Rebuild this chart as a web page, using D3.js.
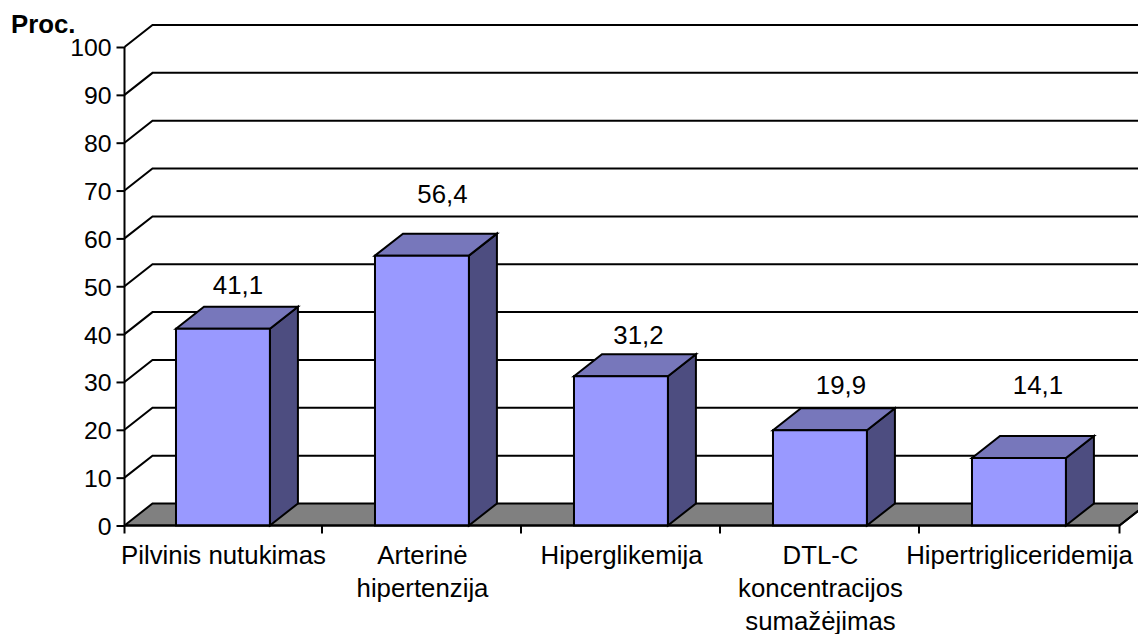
<!DOCTYPE html>
<html lang="lt">
<head>
<meta charset="utf-8">
<script src="https://cdn.jsdelivr.net/npm/d3@7/dist/d3.min.js"></script>
<style>
html,body{margin:0;padding:0;background:#fff;overflow:hidden}
svg{display:block}
text{font-family:"Liberation Sans",Arial,sans-serif;fill:#000}
</style>
</head>
<body>
<div id="chart"></div>
<script>
const categories = ["Pilvinis nutukimas", "Arterinė hipertenzija", "Hiperglikemija", "DTL-C koncentracijos sumažėjimas", "Hipertrigliceridemija"];
const categoryLines = [["Pilvinis nutukimas"], ["Arterinė", "hipertenzija"], ["Hiperglikemija"], ["DTL-C", "koncentracijos", "sumažėjimas"], ["Hipertrigliceridemija"]];
const values = [41.1, 56.4, 31.2, 19.9, 14.1];
const valueLabels = ["41,1", "56,4", "31,2", "19,9", "14,1"];
const yTicks = [0, 10, 20, 30, 40, 50, 60, 70, 80, 90, 100];

const width = 1138, height = 634, fontSize = 25.8, tickFontSize = 24.8;
const depthX = 28, depthY = -22;
const y = d3.scaleLinear().domain([0, 100]).range([525.5, 47]);
const x = d3.scaleBand().domain(categories).range([124.5, 1119.5]).paddingInner(0.528).paddingOuter(0.264).align(0.49);
const edges = d3.scaleLinear().domain([0, categories.length]).range([124.5, 1119.5]);

// Hand placement of the value labels: height above the bar's front top edge, and shift right of its centre
const labelLift = [35, 52.6, 32, 36, 64];
const labelShift = [15, 20.5, 17.5, 21, 19];

const svg = d3.select("#chart").append("svg").attr("width", width).attr("height", height);
const styled = (sel, fill) => sel.attr("fill", fill).attr("stroke", "#000").attr("stroke-width", 2).attr("stroke-linejoin", "miter");
const poly = pts => "M" + pts.map(p => p.join(",")).join("L") + "Z";

// Back wall grid lines, each with its short slanted lead-in from the axis
svg.append("g").selectAll("path").data(yTicks.filter(t => t > 0)).join("path")
  .attr("d", t => `M${edges(0)},${y(t)}l${depthX},${depthY}H${edges(5) + depthX}`)
  .attr("fill", "none").attr("stroke", "#000").attr("stroke-width", 2);

// Floor of the 3D plot
styled(svg.append("path"), "#808080")
  .attr("d", poly([[edges(0), y(0)], [edges(0) + depthX, y(0) + depthY], [edges(5) + depthX, y(0) + depthY], [edges(5), y(0)]]));

// Bars: side, top, front
const bars = svg.append("g").selectAll("g").data(values).join("g");
bars.each(function (v, i) {
  const g = d3.select(this);
  const l = x(categories[i]), r = l + x.bandwidth(), t = y(v), b = y(0);
  styled(g.append("path"), "#4d4d80").attr("d", poly([[r, t], [r + depthX, t + depthY], [r + depthX, b + depthY], [r, b]]));
  styled(g.append("path"), "#7777bb").attr("d", poly([[l, t], [l + depthX, t + depthY], [r + depthX, t + depthY], [r, t]]));
  styled(g.append("path"), "#9999ff").attr("d", poly([[l, t], [r, t], [r, b], [l, b]]));
});

// Value labels above each bar
svg.append("g").selectAll("text").data(values).join("text")
  .attr("x", (v, i) => x(categories[i]) + x.bandwidth() / 2 + labelShift[i])
  .attr("y", (v, i) => y(v) - labelLift[i])
  .attr("text-anchor", "middle").attr("font-size", fontSize)
  .text((v, i) => valueLabels[i]);

// Value axis
const yAxis = svg.append("g").attr("transform", `translate(${edges(0)},0)`)
  .call(d3.axisLeft(y).tickValues(yTicks).tickSize(8).tickPadding(5));
yAxis.selectAll("line, path").attr("stroke", "#000").attr("stroke-width", 2);
yAxis.select(".domain").attr("d", `M0,${y(100)}V${y(0)}`);
yAxis.selectAll("text").attr("font-size", tickFontSize).attr("dy", "0.36em")
  .style("font-family", '"Liberation Sans",Arial,sans-serif');

// Category axis with ticks between the groups; the inner ones sit a little left of the even division
const tickX = d => edges(d) - (d > 0 && d < categories.length ? 1.5 : 0);
const xAxis = svg.append("g");
xAxis.append("line").attr("x1", edges(0)).attr("x2", edges(5)).attr("y1", y(0)).attr("y2", y(0))
  .attr("stroke", "#000").attr("stroke-width", 2);
xAxis.selectAll(".tick").data(d3.range(categories.length + 1)).join("line").attr("class", "tick")
  .attr("x1", tickX).attr("x2", tickX).attr("y1", y(0)).attr("y2", y(0) + 8)
  .attr("stroke", "#000").attr("stroke-width", 2);
xAxis.append("line").attr("x1", edges(5)).attr("y1", y(0)).attr("x2", edges(5) + depthX).attr("y2", y(0) + depthY)
  .attr("stroke", "#000").attr("stroke-width", 2);

// Multi-line category labels
xAxis.selectAll(".cat").data(categoryLines).join("text").attr("class", "cat")
  .attr("text-anchor", "middle").attr("font-size", fontSize)
  .each(function (lines, i) {
    d3.select(this).selectAll("tspan").data(lines).join("tspan")
      .attr("x", edges(i) + (edges(1) - edges(0)) / 2 - 0.5)
      .attr("y", (d, k) => 564 + k * 33)
      .text(d => d);
  });

// Unit caption
svg.append("text").attr("x", 11).attr("y", 33).attr("font-size", fontSize).attr("font-weight", "bold").text("Proc.");
</script>
</body>
</html>
